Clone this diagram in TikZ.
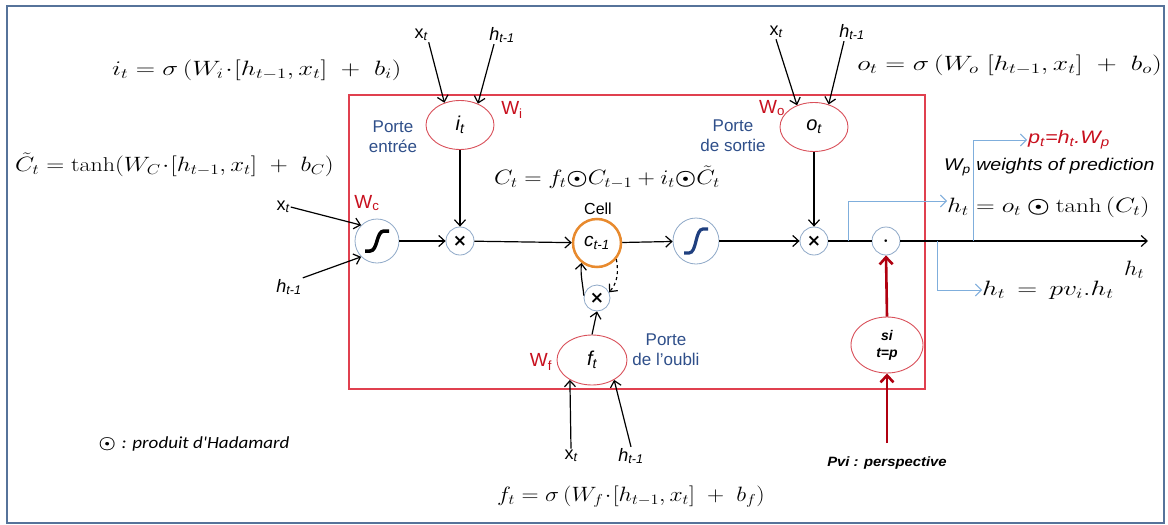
\documentclass[tikz,border=0pt]{standalone}
\usepackage{amsmath}
\usepackage{graphicx}
\usepackage{fontspec}
\setsansfont{Liberation Sans}
\newfontfamily\calfont{Carlito}
\newfontfamily\djv{DejaVu Sans}
\newcommand\sx[2]{\scalebox{#1}[1]{#2}}
\usetikzlibrary{shapes.geometric,arrows.meta}
\definecolor{frameblue}{HTML}{56739A}
\definecolor{boxred}{HTML}{E0404F}
\definecolor{gatered}{HTML}{D9505A}
\definecolor{circblue}{HTML}{8FA9C8}
\definecolor{cellorange}{HTML}{E88A2E}
\definecolor{porteblue}{HTML}{2F4F8A}
\definecolor{wred}{HTML}{C8101E}
\definecolor{darkred}{HTML}{B00010}
\definecolor{lineblue}{HTML}{7FAEDC}
\definecolor{sblue}{HTML}{1F3F7F}
\begin{document}
\begin{tikzpicture}[x=1pt,y=-1pt,
  gate/.style={ellipse, draw=gatered, fill=white, line width=0.9pt, minimum width=68pt, minimum height=49pt, inner sep=0pt, font=\sffamily\itshape\fontsize{20}{20}\selectfont},
  opc/.style={circle, draw=circblue, fill=white, line width=0.8pt, minimum size=28pt, inner sep=0pt, font=\djv\bfseries\fontsize{17}{17}\selectfont},
  actc/.style={circle, draw=circblue, fill=white, line width=0.8pt, minimum size=44pt, inner sep=0pt},
  arr/.style={-{Straight Barb[length=6pt,width=11pt]}, line width=1.2pt},
  lbl/.style={inner sep=1pt, font=\sffamily\fontsize{18}{18}\selectfont},
  eq/.style={inner sep=0pt, font=\fontsize{20}{23}\selectfont},
  porte/.style={text=porteblue, inner sep=1pt, font=\sffamily\fontsize{17}{20}\selectfont, align=center},
  wlab/.style={text=wred, inner sep=1pt, font=\sffamily\fontsize{19}{19}\selectfont},
  blu/.style={draw=lineblue, line width=0.9pt, -{Straight Barb[length=6pt,width=12pt]}},
  redarr/.style={draw=darkred, line width=2.6pt, -{Straight Barb[length=7pt,width=13pt]}}]
\useasboundingbox (0,0) rectangle (1168,525);
\fill[white] (0,0) rectangle (1168,525);
\draw[frameblue, line width=2pt] (7,6) rectangle (1164,523);
\draw[boxred, line width=1.2pt] (349,95) rectangle (925,389);

% equations
\node[eq, anchor=west] (eqi) at (112,70) {\sx{1.29}{$i_t = \sigma\,(W_i\!\cdot\![h_{t-1}, x_t]\ +\ b_i)$}};
\node[eq, anchor=west] (eqc) at (15,165) {\sx{1.2}{$\tilde{C}_t = \tanh(W_C\!\cdot\![h_{t-1}, x_t]\ +\ b_C)$}};
\node[eq, anchor=east] (eqo) at (1162,65) {\sx{1.33}{$o_t = \sigma\,(W_o\ [h_{t-1}, x_t]\ +\ b_o)$}};
\node[eq] (eqC) at (607,177) {\sx{1.16}{$C_t = f_t{\boldsymbol{\odot}}C_{t-1} + i_t{\boldsymbol{\odot}}\tilde{C}_t$}};
\node[eq] (eqf) at (631,497) {\sx{1.14}{$f_t = \sigma\,(W_f\!\cdot\![h_{t-1}, x_t]\ +\ b_f)$}};
\node[eq, anchor=west] (ht1) at (947,207) {\sx{1.25}{$h_t = o_t\boldsymbol{\odot}\tanh\,(C_t)$}};
\node[eq, anchor=west, font=\fontsize{22}{24}\selectfont] (ht2) at (982,290) {\sx{1.33}{$h_t\, =\, pv_i.h_t$}};
\node[eq, font=\fontsize{22}{24}\selectfont] (htl) at (1134,270) {\sx{1.15}{$h_t$}};

% gates
\node[gate] (it) at (460,125) {i\textsubscript{t}};
\node[gate] (ot) at (814,127) {o\textsubscript{t}};
\node[gate, minimum width=70pt, minimum height=50pt] (ft) at (592,360) {f\textsubscript{t}};
\node[gate, minimum width=72pt, minimum height=56pt, font=\sffamily\bfseries\itshape\fontsize{14}{17}\selectfont, align=center] (si) at (887,345) {si\\t=p};

% main line elements
\node[actc] (sL) at (377,241) {};
\draw[line width=3.5pt] (365,251) -- (370,251) .. controls (378,251) and (376,231) .. (384,231) -- (389,231);
\node[opc] (m1) at (460,241) {×};
\node[circle, draw=cellorange, fill=white, line width=2.5pt, minimum size=48pt, inner sep=0pt, font=\sffamily\itshape\fontsize{19}{19}\selectfont] (cell) at (597,243) {c\textsubscript{t-1}};
\node[opc, minimum size=26pt] (m2) at (597,298) {×};
\node[actc, minimum size=46pt] (sR) at (696,241) {};
\draw[sblue, line width=3.2pt] (684,253) -- (689,253) .. controls (697,253) and (695,229) .. (703,229) -- (708,229);
\node[opc] (m3) at (814,241) {×};
\node[opc] (dot) at (886,241) {$\boldsymbol{\cdot}$};
\coordinate (hend) at (1148,241);

% input labels
\node[lbl] (xi) at (421,35) {x\textsubscript{\itshape t}};
\node[lbl] (hi) at (502,35) {\itshape h\textsubscript{t-1}};
\node[lbl] (xo) at (776,32) {x\textsubscript{\itshape t}};
\node[lbl] (ho) at (852,32) {\itshape h\textsubscript{t-1}};
\node[lbl] (xc) at (283,207) {x\textsubscript{\itshape t}};
\node[lbl] (hc) at (289,287) {\itshape h\textsubscript{t-1}};
\node[lbl] (xf) at (571,456) {x\textsubscript{\itshape t}};
\node[lbl] (hf) at (631,456) {\itshape h\textsubscript{t-1}};

% gate labels
\node[porte] (pe) at (393,137) {Porte\\entrée};
\node[porte] (ps) at (733,136) {Porte\\de sortie};
\node[porte] (pf) at (666,350) {Porte\\de l’oubli};
\node[wlab] (wi) at (512,110) {W\textsubscript{i}};
\node[wlab] (wo) at (772,108) {W\textsubscript{o}};
\node[wlab] (wc) at (367,203) {W\textsubscript{c}};
\node[wlab] (wf) at (541,362) {W\textsubscript{f}};
\node[font=\sffamily\fontsize{16}{16}\selectfont] (celllbl) at (598,209) {Cell};

% right side texts
\node[anchor=west, text=wred, inner sep=1pt, font=\sffamily\itshape\fontsize{18}{18}\selectfont] (pt) at (1027,140) {\sx{1.2}{p\textsubscript{t}=h\textsubscript{t}.W\textsubscript{p}}};
\node[anchor=west, inner sep=1pt, font=\sffamily\itshape\fontsize{17}{17}\selectfont] (wp) at (943,167) {\sx{1.15}{W\textsubscript{p} weights of prediction}};
\node[anchor=west, font=\fontsize{17}{17}\selectfont] (had) at (95,444) {\sx{1.12}{$\boldsymbol{\odot}$ {\calfont\itshape : produit d'Hadamard}}};
\node[font=\sffamily\bfseries\itshape\fontsize{13.5}{14}\selectfont] (pvi) at (887,463) {\sx{1.1}{Pvi : perspective}};

% input arrows
\draw[arr] (xi.south east) -- (it.125);
\draw[arr] ([xshift=-8pt]hi.south) -- (it.50);
\draw[arr] (xo.south) -- (ot.128);
\draw[arr] ([xshift=-8pt]ho.south) -- (ot.57);
\draw[arr] (xc.east) -- (sL.135);
\draw[arr] (hc.north east) -- (sL.225);
\draw[arr] (xf.north) -- (ft.222);
\draw[arr] (hf.north) -- (ft.318);

% internal connections
\draw[arr] (it.south) -- (m1.north);
\draw[arr] (ot.south) -- (m3.north);
\draw[arr] (ft.north) -- (m2.south);
\draw[arr] (m2.170) to[out=95,in=-95] (cell.232);
\draw[arr, dashed] (cell.-40) to[out=-80,in=50] (m2.25);
\draw[arr] (sL) -- (m1);
\draw[arr] (m1) -- (cell);
\draw[arr] (cell) -- (sR);
\draw[arr] (sR) -- (m3);
\draw[line width=1.2pt] (m3) -- (dot);
\draw[arr] (dot) -- (hend);

% blue branches
\coordinate (b1) at (848,241);
\coordinate (b2) at (973,241);
\coordinate (b3) at (937,241);
\draw[blu] (b1) |- ([yshift=6pt]ht1.west);
\draw[blu] (b2) |- (pt.west);
\draw[blu] (b3) |- (ht2.west);

% red arrows
\draw[redarr] (si.north) -- (dot.south);
\draw[redarr] ([yshift=10pt]pvi.north) -- (si.south);
\end{tikzpicture}
\end{document}
